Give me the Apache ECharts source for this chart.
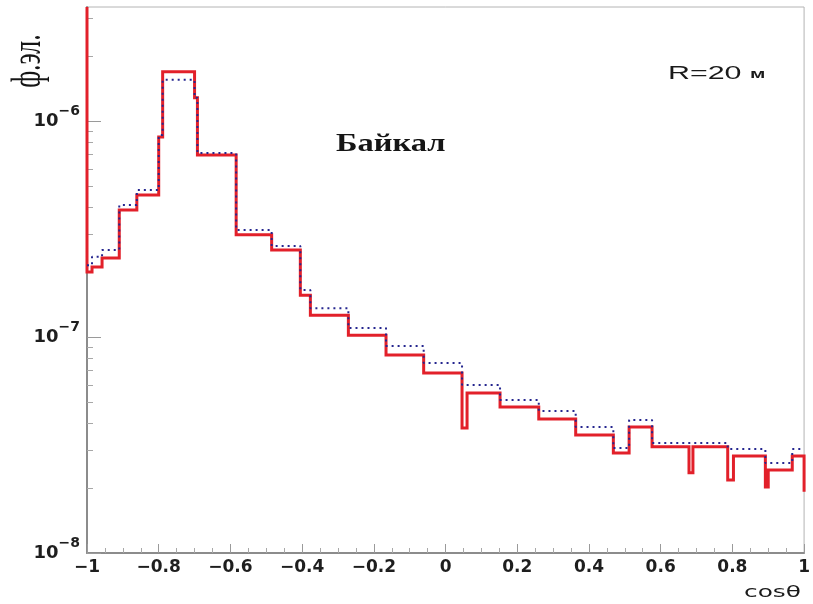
<!DOCTYPE html>
<html>
<head>
<meta charset="utf-8">
<script src="https://cdn.jsdelivr.net/npm/echarts@6/dist/echarts.min.js"></script>
<style>
  html, body { margin: 0; padding: 0; background: #ffffff; }
  #chart { width: 813px; height: 604px; }
</style>
</head>
<body>
<div id="chart"></div>
<script>
// Histogram bin edges in cos(theta)
const binEdges = [
  -1, -0.986, -0.958, -0.91, -0.861, -0.80, -0.789, -0.70, -0.692, -0.584,
  -0.485, -0.405, -0.377, -0.271, -0.166, -0.061, 0.046, 0.06, 0.152, 0.26,
  0.363, 0.468, 0.512, 0.576, 0.679, 0.69, 0.787, 0.803, 0.892, 0.90,
  0.967, 1
];

// Solid red histogram, one value per bin
const redValues = [
  2.00e-7, 2.11e-7, 2.32e-7, 3.87e-7, 4.54e-7, 8.43e-7, 1.69e-6, 1.28e-6, 6.96e-7, 2.97e-7,
  2.53e-7, 1.56e-7, 1.26e-7, 1.02e-7, 8.26e-8, 6.81e-8, 3.79e-8, 5.51e-8, 4.74e-8, 4.17e-8,
  3.52e-8, 2.90e-8, 3.83e-8, 3.10e-8, 2.35e-8, 3.10e-8, 2.18e-8, 2.81e-8, 2.02e-8, 2.42e-8,
  2.81e-8
];

// Dotted blue histogram, one value per bin
const blueValues = [
  2.15e-7, 2.35e-7, 2.53e-7, 4.08e-7, 4.79e-7, 8.61e-7, 1.55e-6, 1.28e-6, 7.10e-7, 3.13e-7,
  2.64e-7, 1.65e-7, 1.36e-7, 1.10e-7, 9.09e-8, 7.58e-8, 6.00e-8, 6.00e-8, 5.11e-8, 4.54e-8,
  3.83e-8, 3.06e-8, 4.13e-8, 3.23e-8, 3.23e-8, 3.23e-8, 3.03e-8, 3.03e-8, 2.61e-8, 2.61e-8,
  3.03e-8
];

// Outer ends of the red outline (left edge rises to the frame, right edge drops)
const redLeadIn = 3.37e-6;
const redTail = 1.92e-8;

// Axis ranges and tick values
const Y_MIN = 1e-8;
const Y_MAX = 3.37e-6;
const yMajorTicks = [1e-8, 1e-7, 1e-6];
const yMinorTicks = [
  2e-8, 3e-8, 4e-8, 5e-8, 6e-8, 7e-8, 8e-8, 9e-8,
  2e-7, 3e-7, 4e-7, 5e-7, 6e-7, 7e-7, 8e-7, 9e-7,
  2e-6, 3e-6
];

function stepPoints(values) {
  const pts = [];
  values.forEach((v, i) => {
    pts.push([binEdges[i], v], [binEdges[i + 1], v]);
  });
  return pts;
}

const redLine = [[binEdges[0], redLeadIn]]
  .concat(stepPoints(redValues))
  .concat([[binEdges[binEdges.length - 1], redTail]]);
const blueLine = stepPoints(blueValues);

const chart = echarts.init(document.getElementById('chart'));

chart.setOption({
  animation: false,
  backgroundColor: '#ffffff',
  grid: {
    left: 87, right: 4, top: 7, bottom: 51,
    show: true, borderColor: '#b4b4b4', borderWidth: 1, backgroundColor: 'transparent'
  },
  xAxis: {
    type: 'value',
    min: -1, max: 1, interval: 0.2,
    axisLine: { onZero: false, lineStyle: { color: '#8c8c8c', width: 2 } },
    axisTick: { inside: true, length: 9, lineStyle: { color: '#9a9a9a', width: 1 } },
    minorTick: { show: true, splitNumber: 4, length: 5, lineStyle: { color: '#a8a8a8', width: 1 } },
    splitLine: { show: false },
    axisLabel: {
      margin: 6,
      fontFamily: 'DejaVu Sans', fontSize: 17, fontWeight: 'bold', color: '#1e1e1e',
      formatter: function (v) {
        const r = Math.round(v * 10) / 10;
        if (r === 0) return '0';
        return (r < 0 ? '\u2212' : '') + String(Math.abs(r));
      }
    }
  },
  yAxis: [
    {
      type: 'log', logBase: 10,
      min: Y_MIN, max: Y_MAX,
      axisLine: { show: true, onZero: false, lineStyle: { color: '#8c8c8c', width: 2 } },
      axisTick: { inside: true, length: 14, customValues: yMajorTicks, lineStyle: { color: '#9a9a9a', width: 1 } },
      splitLine: { show: false },
      minorTick: { show: false },
      axisLabel: {
        customValues: yMajorTicks,
        margin: 7,
        formatter: function (v) {
          return '{m|10}{e|\u2212' + Math.round(-Math.log10(v)) + '}';
        },
        rich: {
          m: { fontFamily: 'DejaVu Sans', fontSize: 18, fontWeight: 'bold', color: '#1e1e1e', lineHeight: 34 },
          e: { fontFamily: 'DejaVu Sans', fontSize: 14, fontWeight: 'bold', color: '#1e1e1e', lineHeight: 14, verticalAlign: 'top' }
        }
      }
    },
    {
      type: 'log', logBase: 10,
      min: Y_MIN, max: Y_MAX,
      position: 'left',
      axisLine: { show: false, onZero: false },
      axisTick: { inside: true, length: 6, customValues: yMinorTicks, lineStyle: { color: '#a8a8a8', width: 1 } },
      axisLabel: { show: false },
      splitLine: { show: false }
    }
  ],
  series: [
    {
      name: 'red',
      type: 'line',
      data: redLine,
      symbol: 'none',
      lineStyle: { color: '#e2202a', width: 3, join: 'miter' },
      z: 2
    },
    {
      name: 'blue',
      type: 'line',
      data: blueLine,
      symbol: 'none',
      lineStyle: { color: '#25268f', width: 2, type: [2, 4] },
      z: 3
    }
  ],
  graphic: [
    {
      type: 'text', x: 668, y: 74, scaleX: 1.6,
      style: {
        text: '{a|R=20 }{b|м}',
        verticalAlign: 'middle', align: 'left',
        rich: {
          a: { fontFamily: 'Liberation Sans', fontSize: 19, fill: '#1a1a1a' },
          b: { fontFamily: 'Liberation Sans', fontSize: 13, fill: '#1a1a1a', fontWeight: 'bold' }
        }
      }
    },
    {
      type: 'text', x: 336, y: 145, scaleX: 1.3,
      style: {
        text: 'Байкал',
        font: 'bold 25px "Liberation Serif"',
        fill: '#151515', verticalAlign: 'middle', align: 'left'
      }
    },
    {
      type: 'text', x: 29, y: 61, rotation: Math.PI / 2, scaleY: 1.6,
      style: {
        text: 'ф.эл.',
        font: '26px "Liberation Serif"',
        fill: '#151515', verticalAlign: 'middle', align: 'center'
      }
    },
    {
      type: 'text', x: 744, y: 593, scaleX: 1.55,
      style: {
        text: 'cosθ',
        font: '16px "DejaVu Sans"',
        fill: '#1a1a1a', verticalAlign: 'middle', align: 'left'
      }
    }
  ]
});
</script>
</body>
</html>
